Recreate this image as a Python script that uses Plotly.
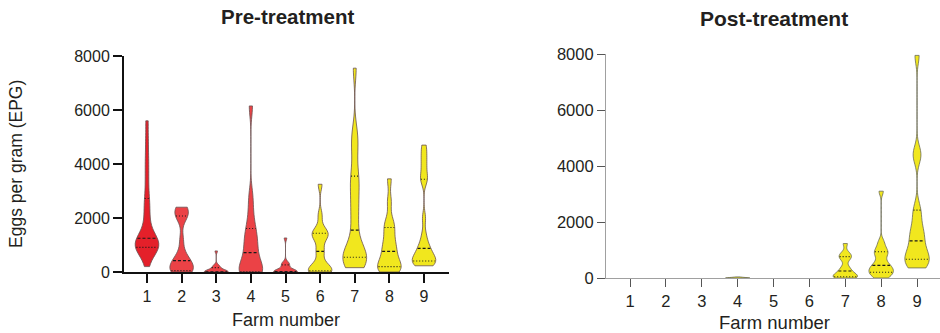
import numpy as np
import plotly.graph_objects as go

# ---------------- data (EPG values read/estimated from the picture) ----------------
farms = [1, 2, 3, 4, 5, 6, 7, 8, 9]
farm_labels = ["1", "2", "3", "4", "5", "6", "7", "8", "9"]
y_ticks = [0, 2000, 4000, 6000, 8000]

pre_1 = [200, 600, 750, 800, 850, 900, 950, 1000, 1050, 1100, 1150, 1200,
         1300, 1400, 1600, 1900, 2200, 2500, 2800, 3300, 3800, 4300, 4900, 5600]
pre_2 = [0, 20, 40, 50, 50, 250, 350, 400, 450, 700, 1200, 2000, 2100, 2200, 2350, 2400]
pre_3 = [0, 0, 0, 0, 0, 0, 0, 20, 50, 100, 150, 200, 250, 780]
pre_4 = [0, 0, 0, 0, 20, 100, 300, 600, 830, 1000, 1200, 1500, 1650, 2200, 2800, 6150]
pre_5 = [0, 0, 0, 0, 0, 0, 0, 30, 60, 150, 250, 300, 350, 1260]
pre_6 = [0, 0, 0, 30, 100, 200, 300, 700, 830, 1200, 1350, 1400, 1450, 1600, 2100, 3250]
pre_7 = [160, 250, 350, 450, 540, 560, 600, 700, 900, 1300, 1800, 2200, 2600, 3000,
         3400, 3600, 4300, 4800, 5200, 7550]
pre_8 = [0, 50, 100, 200, 200, 300, 500, 700, 830, 1000, 1200, 1500, 1700, 1900, 2600, 3450]
pre_9 = [230, 280, 330, 380, 400, 430, 500, 600, 700, 850, 900, 1100, 1400, 2000,
         3400, 3450, 3800, 4100, 4400, 4700]

post_1 = [0, 0, 0, 0, 0, 0, 0, 0, 0, 0]
post_2 = [0, 0, 0, 0, 0, 0, 0, 0, 0, 0]
post_3 = [0, 0, 0, 0, 0, 0, 0, 0, 0, 0]
post_4 = [0, 0, 0, 0, 0, 0, 0, 0, 0, 40]
post_5 = [0, 0, 0, 0, 0, 0, 0, 0, 0, 0]
post_6 = [0, 0, 0, 0, 0, 0, 0, 0, 0, 0]
post_7 = [0, 0, 30, 50, 80, 150, 200, 300, 400, 650, 750, 800, 900, 1230]
post_8 = [0, 50, 150, 200, 220, 300, 350, 420, 480, 600, 800, 900, 950, 1100, 1300, 3100]
post_9 = [360, 450, 550, 650, 720, 850, 1000, 1200, 1450, 1600, 1800, 2200, 2500, 4300, 4500, 7950]

pre_values = [pre_1, pre_2, pre_3, pre_4, pre_5, pre_6, pre_7, pre_8, pre_9]
post_values = [post_1, post_2, post_3, post_4, post_5, post_6, post_7, post_8, post_9]

# ---------------- styles ----------------
RED1 = "#E4202A"
RED = "#EB4246"
YEL = "#F1E71E"
pre_fill = [RED1, RED, RED, RED, RED, YEL, YEL, YEL, YEL]
post_fill = [YEL] * 9
pre_bw = [330, 260, 70, 380, 90, 210, 450, 280, 230]
post_bw = [20, 20, 20, 18, 20, 20, 110, 140, 300]
VW = 0.68           # violin full width in category units
FONT = "Liberation Sans, Arial, sans-serif"
TXT = "#231f20"


def density(vals, bw, at):
    v = np.asarray(vals, float)[:, None]
    a = np.atleast_1d(np.asarray(at, float))[None, :]
    return np.exp(-0.5 * ((a - v) / bw) ** 2).sum(axis=0)


def half_width(vals, bw, at):
    lo, hi = min(vals), max(vals)
    n = int(np.ceil((hi - lo) / (bw / 3.0)))
    grid = np.linspace(lo, hi, n + 1)
    return VW / 2 * density(vals, bw, at) / density(vals, bw, grid).max()


fig = go.Figure()


def add_panel(values, fills, bws, xa, ya, outline):
    med_x, med_y, q_x, q_y = [], [], [], []
    for f, vals, col, bw in zip(farms, values, fills, bws):
        if max(vals) == min(vals):
            continue  # all-zero farms: nothing visible
        fig.add_trace(go.Violin(
            x=[f] * len(vals), y=vals, xaxis=xa, yaxis=ya,
            spanmode="hard", bandwidth=bw, width=VW, scalemode="width",
            points=False, fillcolor=col, line=dict(color=outline, width=0.8),
            box_visible=False, meanline_visible=False, showlegend=False,
            hoverinfo="skip"))
        q1, q2, q3 = np.percentile(vals, [25, 50, 75], method="weibull")
        for q, lx, ly in ((q1, q_x, q_y), (q3, q_x, q_y), (q2, med_x, med_y)):
            if q <= 0:
                continue
            hw = float(half_width(vals, bw, q)[0]) * 0.92
            lx += [f - hw, f + hw, None]
            ly += [q, q, None]
    fig.add_trace(go.Scatter(x=q_x, y=q_y, mode="lines", xaxis=xa, yaxis=ya,
                             line=dict(color="#1a1a1a", width=1.1, dash="1px,2px"),
                             showlegend=False, hoverinfo="skip"))
    fig.add_trace(go.Scatter(x=med_x, y=med_y, mode="lines", xaxis=xa, yaxis=ya,
                             line=dict(color="#1a1a1a", width=1.2, dash="3px,2px"),
                             showlegend=False, hoverinfo="skip"))


add_panel(pre_values, pre_fill, pre_bw, "x", "y", "#6a5050")
add_panel(post_values, post_fill, post_bw, "x2", "y2", "#6a6a55")

W, H = 940, 333


def px_x(p):
    return p / W


def px_y(p):
    return 1 - p / H


axis_common = dict(showgrid=False, zeroline=False, ticks="outside", mirror=False,
                   automargin=False, tickfont=dict(family=FONT, color=TXT))

fig.update_layout(
    width=W, height=H, margin=dict(l=0, r=0, t=0, b=0, pad=0, autoexpand=False),
    paper_bgcolor="white", plot_bgcolor="white", violinmode="overlay",
    xaxis=dict(domain=[px_x(124), px_x(449)], range=[0.336, 9.722],
               tickvals=farms, ticktext=farm_labels, anchor="y",
               showline=True, linecolor="#111", linewidth=2,
               ticklen=9, tickwidth=2, tickcolor="#111", **axis_common),
    yaxis=dict(domain=[px_y(272), px_y(56)], range=[0, 8000], tickvals=y_ticks,
               anchor="x", showline=True, linecolor="#111", linewidth=2,
               ticklen=9, tickwidth=2, tickcolor="#111", **axis_common),
    xaxis2=dict(domain=[px_x(606), 1.0], range=[0.33, 9.64],
                tickvals=farms, ticktext=farm_labels, anchor="y2",
                showline=True, linecolor="#a0a0a0", linewidth=1.2,
                ticklen=8, tickwidth=1.2, tickcolor="#555", **axis_common),
    yaxis2=dict(domain=[px_y(278), px_y(54)], range=[0, 8000], tickvals=y_ticks,
                anchor="x2", showline=True, linecolor="#a0a0a0", linewidth=1.2,
                ticklen=8, tickwidth=1.2, tickcolor="#555", **axis_common),
)
fig.layout.xaxis.tickfont.size = 16
fig.layout.yaxis.tickfont.size = 16
fig.layout.xaxis2.tickfont.size = 16.5
fig.layout.yaxis2.tickfont.size = 16.5

ann = [
    dict(text="<b>Pre-treatment</b>", x=px_x(287), y=px_y(17), size=20.5, angle=0),
    dict(text="<b>Post-treatment</b>", x=px_x(774), y=px_y(18), size=21, angle=0),
    dict(text="Farm number", x=px_x(286), y=px_y(320), size=18, angle=0),
    dict(text="Farm number", x=px_x(774), y=px_y(322), size=18.5, angle=0),
    dict(text="Eggs per gram (EPG)", x=px_x(16), y=px_y(164), size=17.5, angle=-90),
]
for a in ann:
    fig.add_annotation(text=a["text"], x=a["x"], y=a["y"], xref="paper", yref="paper",
                       xanchor="center", yanchor="middle", showarrow=False,
                       textangle=a["angle"],
                       font=dict(family=FONT, size=a["size"], color=TXT))

fig.write_html("out.html")
